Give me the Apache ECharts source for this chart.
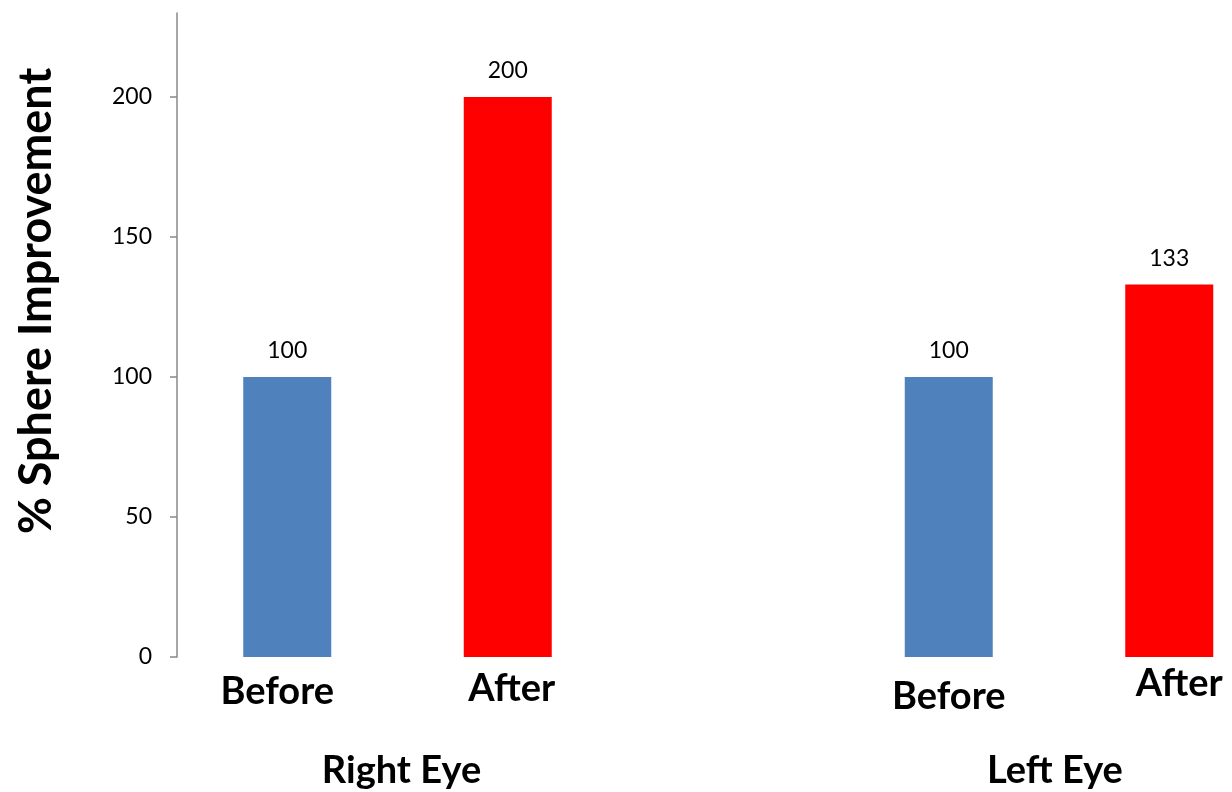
<!DOCTYPE html>
<html>
<head>
<meta charset="utf-8">
<script src="https://cdn.jsdelivr.net/npm/echarts@6/dist/echarts.min.js"></script>
<style>html,body{margin:0;padding:0;background:#fff}#c{width:1232px;height:792px}</style>
</head>
<body>
<div id="c"></div>
<script>
// ---- data ----
const categories = ['Before', 'After', '', 'Before', 'After'];
const values = [100, 200, null, 100, 133];
const groups = ['Right Eye', 'Left Eye'];
const groupPositions = [0.5, 3.5];
const yTicks = [0, 50, 100, 150, 200];
const yMax = 230;
const yTitle = '% Sphere Improvement';

// ---- styles ----
const colorFor = { 'Before': '#4F81BD', 'After': '#FF0000' };
const FONT = 'Lato, "Open Sans", sans-serif';
// per-category label paddings [top, right, bottom, left] to mimic the reference text boxes
const labelPad = [[8, 20, 0, 0], [5, 0, 0, 8], [0, 0, 0, 0], [13, 0, 0, 0], [0, 0, 0, 20]];
const groupPad = [[0, 0, 0, 8], [0, 8, 0, 0]];

const chart = echarts.init(document.getElementById('c'));
const rich = {};
labelPad.forEach((p, i) => {
  rich['l' + i] = { fontFamily: FONT, fontWeight: 'bold', fontSize: 38, color: '#000', padding: p };
});
const groupRich = {};
groupPad.forEach((p, i) => {
  groupRich['g' + i] = { fontFamily: FONT, fontWeight: 'bold', fontSize: 38, color: '#000', padding: p };
});

chart.setOption({
  animation: false,
  grid: { left: 177, top: 13, width: 1102.5, height: 644, containLabel: false, outerBoundsMode: 'none' },
  xAxis: [{
    type: 'category',
    data: categories,
    axisLine: { show: false },
    axisTick: { show: false },
    axisLabel: {
      margin: 8,
      interval: 0,
      formatter: (v, i) => v ? '{l' + i + '|' + v + '}' : '',
      rich: rich
    }
  }, {
    type: 'value',
    min: -0.5, max: 4.5,
    position: 'bottom',
    offset: 87,
    axisLine: { show: false },
    axisTick: { show: false },
    splitLine: { show: false },
    axisLabel: {
      customValues: groupPositions,
      formatter: (v) => {
        const k = groupPositions.indexOf(v);
        return k < 0 ? '' : '{g' + k + '|' + groups[k] + '}';
      },
      rich: groupRich
    }
  }],
  yAxis: {
    type: 'value',
    min: 0, max: yMax,
    axisLine: { show: true, onZero: false, lineStyle: { color: '#888', width: 1.5 } },
    axisTick: { show: true, length: 7, customValues: yTicks, lineStyle: { color: '#888', width: 1.5 } },
    axisLabel: { customValues: yTicks, margin: 25, fontFamily: FONT, fontSize: 23, color: '#000' },
    splitLine: { show: false },
    name: yTitle,
    nameLocation: 'middle',
    nameRotate: 90,
    nameGap: 118,
    nameTextStyle: { fontFamily: FONT, fontWeight: 'bold', fontSize: 45, color: '#000', padding: [0, 0, 0, 68] }
  },
  series: [{
    type: 'bar',
    barWidth: 88,
    data: values.map((v, i) => ({
      value: v == null ? '-' : v,
      itemStyle: { color: colorFor[categories[i]] || '#000' }
    })),
    label: {
      show: true, position: 'top', distance: 15,
      fontFamily: FONT, fontSize: 23, color: '#000'
    }
  }]
});
</script>
</body>
</html>
